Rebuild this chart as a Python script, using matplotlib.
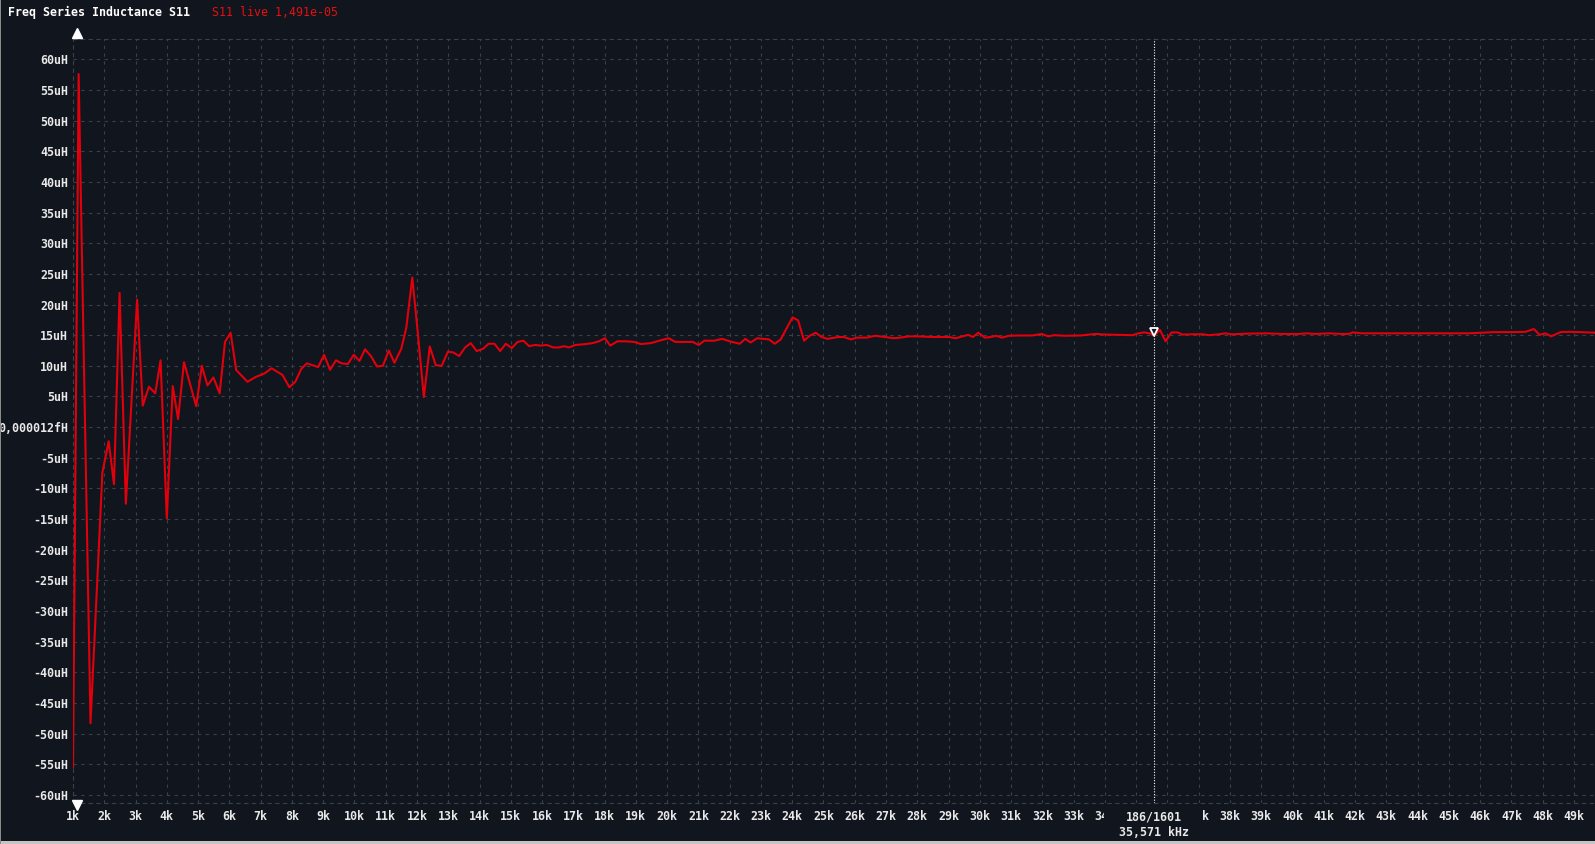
# grafica de inductancia serie S11 (estilo analizador VNA)
import matplotlib.pyplot as plt
from matplotlib.patches import Rectangle
from matplotlib.lines import Line2D
from matplotlib.transforms import offset_copy, Bbox, TransformedBbox

# datos (frecuencia en kHz, inductancia en uH)
freq_khz = [1.00, 1.18, 1.56, 1.94, 2.14, 2.31, 2.49, 2.69, 3.05, 3.23, 3.43, 3.63,
            3.80, 4.00, 4.19, 4.36, 4.55, 4.94, 5.12, 5.30, 5.49, 5.69, 5.86, 6.04,
            6.22, 6.58, 6.85, 7.12, 7.35, 7.70, 7.92, 8.11, 8.30, 8.48, 8.66, 8.84,
            9.03, 9.22, 9.41, 9.59, 9.79, 9.98, 10.16, 10.34, 10.54, 10.72, 10.91, 11.10,
            11.28, 11.50, 11.66, 11.85, 12.03, 12.22, 12.41, 12.60, 12.79, 12.99, 13.15, 13.35,
            13.54, 13.72, 13.91, 14.12, 14.29, 14.48, 14.66, 14.84, 15.03, 15.22, 15.40, 15.59,
            15.77, 15.96, 16.15, 16.36, 16.54, 16.70, 16.86, 17.07, 17.40, 17.61, 17.82, 18.01,
            18.18, 18.41, 18.68, 18.95, 19.16, 19.48, 19.75, 20.05, 20.26, 20.55, 20.82, 21.01,
            21.19, 21.51, 21.76, 22.00, 22.32, 22.50, 22.67, 22.88, 23.26, 23.44, 23.63, 24.01,
            24.19, 24.38, 24.56, 24.75, 24.94, 25.13, 25.47, 25.66, 25.88, 26.06, 26.38, 26.65,
            26.97, 27.24, 27.45, 27.73, 28.05, 28.48, 29.01, 29.23, 29.44, 29.63, 29.78, 29.95,
            30.16, 30.35, 30.53, 30.70, 30.93, 31.25, 31.68, 31.98, 32.19, 32.37, 32.74, 33.22,
            33.70, 34.02, 34.45, 34.88, 35.07, 35.25, 35.43, 35.571, 35.76, 35.94, 36.13, 36.32,
            36.48, 36.80, 37.12, 37.33, 37.65, 37.84, 38.07, 38.60, 39.14, 39.67, 40.20, 40.44,
            40.74, 41.16, 41.59, 41.80, 41.93, 42.23, 42.87, 43.40, 43.94, 44.58, 45.00, 45.64,
            46.07, 46.44, 46.81, 47.13, 47.45, 47.72, 47.90, 48.09, 48.27, 48.57, 48.84, 49.16,
            49.64, 49.90]
ind_uh = [-55.5, 57.6, -48.3, -7.4, -2.3, -9.3, 21.9, -12.5, 20.8, 3.5, 6.6, 5.5,
          10.9, -14.9, 6.7, 1.3, 10.6, 3.4, 10.0, 6.8, 8.1, 5.5, 13.9, 15.4,
          9.3, 7.4, 8.2, 8.75, 9.6, 8.5, 6.5, 7.4, 9.5, 10.4, 10.1, 9.8,
          11.8, 9.35, 10.9, 10.4, 10.3, 11.8, 10.8, 12.7, 11.5, 9.9, 10.0, 12.5,
          10.5, 12.8, 16.25, 24.4, 15.2, 4.9, 13.15, 10.1, 10.0, 12.3, 12.2, 11.6,
          13.0, 13.7, 12.4, 12.8, 13.6, 13.6, 12.4, 13.6, 12.9, 13.9, 14.1, 13.2,
          13.4, 13.3, 13.4, 13.0, 13.0, 13.2, 13.0, 13.4, 13.55, 13.7, 14.0, 14.5,
          13.3, 14.0, 14.0, 13.9, 13.55, 13.7, 14.1, 14.5, 13.9, 13.9, 13.9, 13.4,
          14.1, 14.1, 14.4, 14.0, 13.6, 14.4, 13.8, 14.5, 14.3, 13.6, 14.3, 17.9,
          17.4, 14.1, 14.9, 15.4, 14.7, 14.4, 14.7, 14.7, 14.3, 14.6, 14.6, 14.9,
          14.7, 14.5, 14.6, 14.8, 14.8, 14.7, 14.7, 14.5, 14.8, 15.05, 14.7, 15.4,
          14.6, 14.7, 14.9, 14.6, 14.9, 14.95, 14.95, 15.2, 14.8, 15.0, 14.9, 14.95,
          15.2, 15.1, 15.05, 15.0, 15.3, 15.45, 15.3, 14.91, 15.85, 14.0, 15.45, 15.45,
          15.1, 15.15, 15.15, 15.0, 15.15, 15.3, 15.15, 15.25, 15.3, 15.2, 15.2, 15.3,
          15.2, 15.3, 15.2, 15.2, 15.45, 15.3, 15.3, 15.3, 15.3, 15.3, 15.3, 15.3,
          15.4, 15.5, 15.5, 15.5, 15.55, 16.0, 15.05, 15.3, 14.8, 15.5, 15.55, 15.5,
          15.4, 15.4]

x_ticks = list(range(1, 50))
# 35k y 36k quedan tapados por la etiqueta del marcador
x_labels = [("" if k in (35, 36) else f"{k}k") for k in x_ticks]
y_ticks = list(range(-60, 61, 5))
y_labels = [("0,000012fH" if v == 0 else f"{v}uH") for v in y_ticks]

marker_khz = 35.571
marker_uh = 14.91

W, H = 1595, 844
BG = "#11151d"
GRID = "#3b3f47"
TXT = "#e8e8e8"
RED = "#e1000c"
MONO = "DejaVu Sans Mono"


def generate_chart(name):
    fig = plt.figure(figsize=(W / 100, H / 100), dpi=100, facecolor=BG)
    # area de graficado en pixeles de la captura
    left, right, top, bottom = 73, 1595, 39.3, 802.7
    ax = fig.add_axes([left / W, 1 - bottom / H, (right - left) / W, (bottom - top) / H])
    ax.set_facecolor(BG)

    ax.plot(freq_khz, ind_uh, color=RED, lw=1.5, zorder=3)
    ax.set_xlim(1.0, 1.0 + (right - left) / 31.27)
    ax.set_ylim(-61.26, 63.26)

    ax.set_xticks(x_ticks)
    ax.set_xticklabels(x_labels, family=MONO, size=8.4, color=TXT, weight="bold")
    ax.set_yticks(y_ticks)
    ax.set_yticklabels(y_labels, family=MONO, size=8.4, color=TXT, weight="bold")
    ax.tick_params(axis="x", length=0, pad=5)
    ax.tick_params(axis="y", length=0, pad=3.6)
    ax.grid(True, color=GRID, lw=0.8, ls=(0, (3, 4)))

    # 34k y 37k se ven cortados por la caja del marcador
    box_x0, box_x1 = 1104, 1202
    for lab, k in zip(ax.get_xticklabels(), x_ticks):
        if k == 34:
            lab.set_clip_on(True)
            lab.set_clip_box(TransformedBbox(Bbox([[0, 0], [box_x0 / W, 1]]), fig.transFigure))
        if k == 37:
            lab.set_clip_on(True)
            lab.set_clip_box(TransformedBbox(Bbox([[box_x1 / W, 0], [1, 1]]), fig.transFigure))

    for s in ["top", "bottom", "left"]:
        ax.spines[s].set_color(GRID)
        ax.spines[s].set_linestyle((0, (3, 4)))
        ax.spines[s].set_linewidth(0.8)
    ax.spines["right"].set_visible(False)

    # marcador
    ax.axvline(marker_khz, color="white", lw=0.8, ls=(0, (1, 1.5)), zorder=4)
    tr = offset_copy(ax.transData, fig=fig, x=0, y=3.5, units="dots")
    ax.plot([marker_khz], [marker_uh], marker="v", ms=6, mfc=BG, mec="white",
            mew=1.3, transform=tr, zorder=5)

    fig.text(1154 / W, 1 - 817 / H, "186/1601", ha="center", va="center",
             family=MONO, weight="bold", size=8.4, color=TXT, zorder=6)
    fig.text(1154 / W, 1 - 833 / H, "35,571 kHz", ha="center", va="center",
             family=MONO, weight="bold", size=8.4, color=TXT, zorder=6)

    # titulo y lectura en vivo
    fig.text(8.3 / W, 1 - 12.3 / H, "Freq Series Inductance S11", ha="left",
             va="center", family=MONO, weight="bold", size=8.4, color="white")
    fig.text(211.7 / W, 1 - 12.3 / H, "S11 live 1,491e-05", ha="left",
             va="center", family=MONO, size=8.4, color="#e41010")

    # flechitas de rango en el eje
    fig.add_artist(Line2D([76.7 / W], [1 - 33 / H], marker="^", ms=7, color="white",
                          lw=0, transform=fig.transFigure))
    fig.add_artist(Line2D([76.7 / W], [1 - 805 / H], marker="v", ms=7, color="white",
                          lw=0, transform=fig.transFigure, zorder=4))

    # borde de la ventana
    fig.add_artist(Rectangle((0, 0), 1, 3 / H, transform=fig.transFigure,
                             facecolor="#c4c4c4", edgecolor="none", zorder=7))
    fig.add_artist(Rectangle((0, 0), 1.2 / W, 1, transform=fig.transFigure,
                             facecolor="#8a8a8a", edgecolor="none", zorder=7))

    plt.savefig(name, dpi=100, facecolor=BG)
    plt.close()


if __name__ == "__main__":
    generate_chart("out.png")
